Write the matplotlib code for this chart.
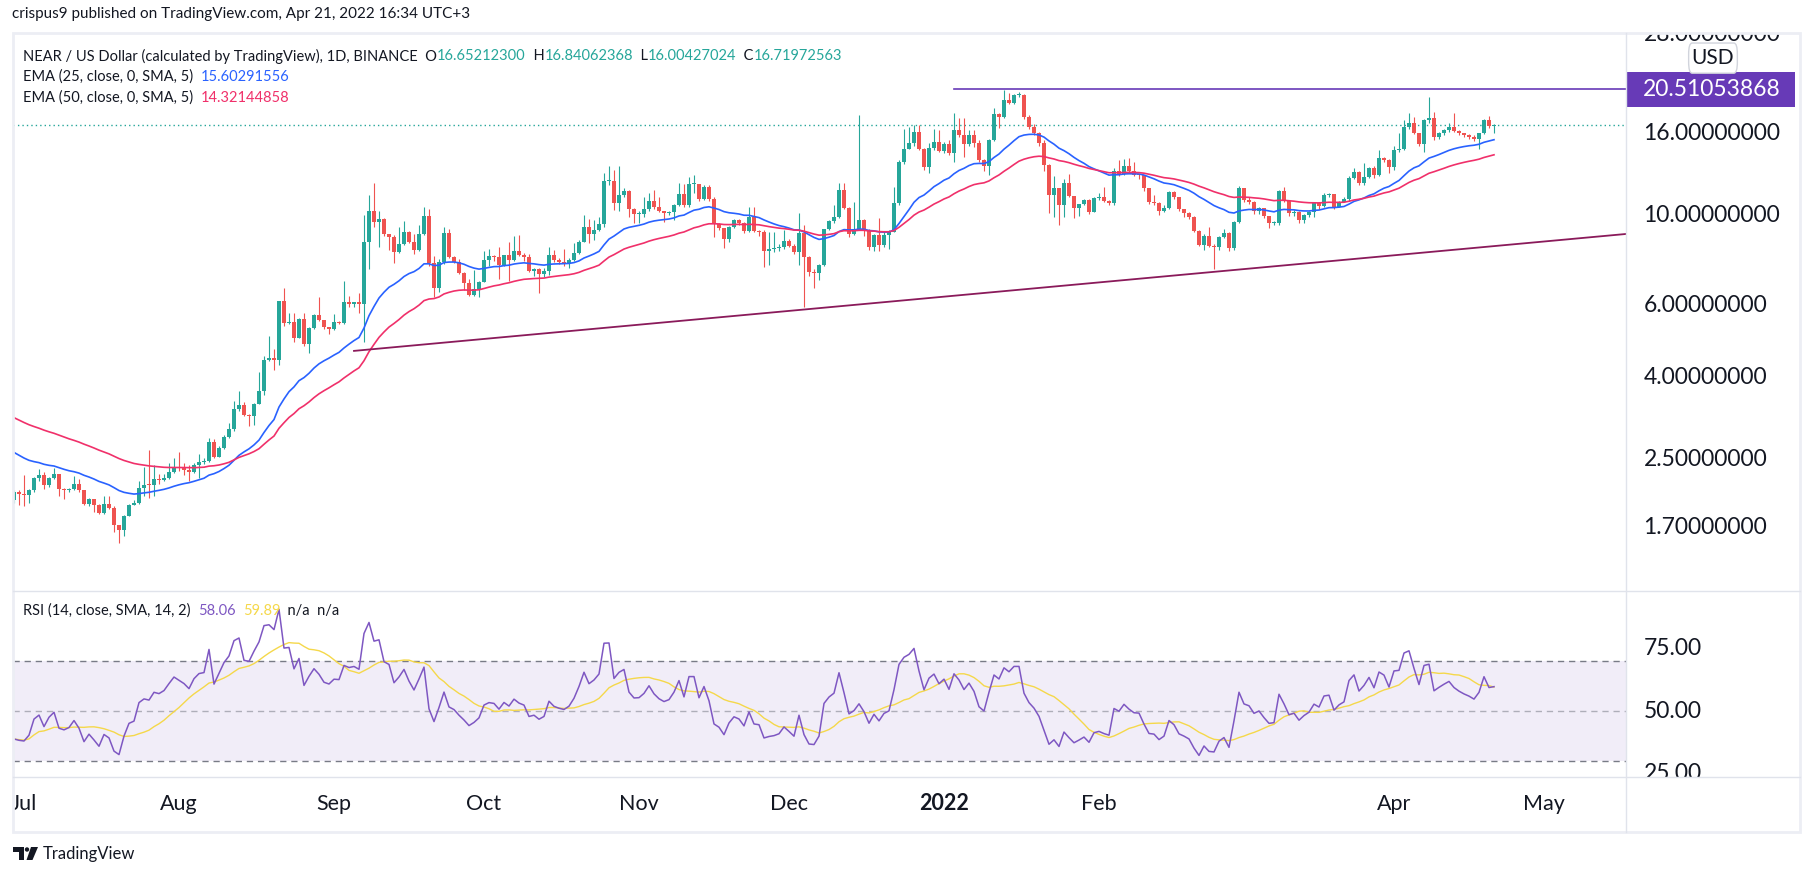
import numpy as np
import pandas as pd
import matplotlib
matplotlib.use('Agg')
import matplotlib.pyplot as plt
import matplotlib.dates as mdates
from matplotlib.patches import Rectangle, FancyBboxPatch, Polygon, Circle

# ---------------------------------------------------------------------------
# data (NEAR/USD daily, from 2021-06-29)
# ---------------------------------------------------------------------------
START_DATE = '2021-06-29'
OPEN_FIRST = 1.99
CLOSE = [
    2.08, 2.06, 2.05, 2.10, 2.25, 2.29, 2.16, 2.25, 2.30, 2.12,
    2.10, 2.12, 2.18, 2.10, 1.94, 2.00, 1.93, 1.85, 1.94, 1.90,
    1.73, 1.68, 1.82, 1.93, 1.95, 2.13, 2.17, 2.16, 2.24, 2.23,
    2.26, 2.33, 2.40, 2.38, 2.36, 2.33, 2.42, 2.47, 2.48, 2.77,
    2.54, 2.68, 2.85, 2.97, 3.33, 3.41, 3.22, 3.21, 3.44, 3.70,
    4.40, 4.45, 4.40, 6.15, 5.43, 5.47, 5.00, 5.55, 4.82, 5.27,
    5.69, 5.53, 5.30, 5.25, 5.46, 5.45, 6.11, 6.06, 6.11, 6.05,
    8.60, 10.27, 9.63, 9.80, 8.99, 8.88, 8.12, 8.54, 9.13, 8.63,
    8.23, 9.00, 9.99, 7.63, 6.64, 7.70, 9.08, 7.92, 7.70, 7.24,
    6.84, 6.37, 6.58, 6.88, 7.77, 7.95, 7.90, 7.56, 7.98, 7.78,
    8.20, 8.00, 7.90, 7.32, 7.38, 7.18, 7.30, 8.00, 7.78, 7.70,
    7.65, 7.78, 8.10, 8.63, 9.40, 9.02, 9.22, 9.55, 12.15, 12.18,
    10.73, 11.25, 11.50, 10.40, 10.08, 10.10, 10.37, 10.87, 10.50, 10.27,
    10.14, 10.24, 10.63, 11.30, 10.63, 11.96, 11.96, 11.00, 11.75, 11.02,
    9.55, 9.31, 8.75, 9.40, 9.76, 9.62, 9.18, 9.95, 9.18, 9.13,
    8.20, 8.27, 8.31, 8.39, 8.68, 8.43, 8.16, 9.05, 7.92, 7.25,
    7.21, 7.56, 9.27, 9.69, 9.95, 11.57, 10.47, 9.02, 9.26, 9.76,
    9.22, 8.36, 8.96, 8.47, 8.96, 9.13, 10.73, 13.55, 14.62, 15.09,
    16.10, 14.62, 13.16, 14.66, 15.24, 14.47, 15.06, 14.25, 16.30, 15.80,
    15.00, 15.80, 15.12, 13.72, 13.30, 15.38, 17.86, 17.50, 19.34, 19.00,
    19.90, 19.90, 17.56, 16.59, 16.00, 15.09, 13.34, 11.25, 11.68, 10.63,
    12.02, 11.20, 10.43, 10.67, 10.93, 10.24, 11.03, 11.14, 10.90, 10.73,
    12.92, 12.67, 13.30, 12.90, 12.60, 12.57, 11.68, 10.83, 10.77, 10.27,
    10.47, 11.42, 11.10, 10.37, 10.18, 9.95, 9.17, 8.47, 8.93, 8.44,
    8.39, 8.88, 9.05, 8.31, 9.67, 11.73, 10.93, 10.80, 10.27, 10.43,
    9.98, 9.58, 9.62, 11.50, 10.89, 10.14, 10.24, 9.76, 10.04, 10.24,
    10.73, 10.57, 11.25, 11.30, 10.53, 10.83, 11.00, 12.40, 12.85, 12.07,
    12.48, 13.10, 12.60, 13.90, 13.75, 13.16, 14.56, 14.62, 16.59, 16.90,
    16.00, 15.06, 17.23, 17.40, 15.60, 15.97, 16.30, 16.59, 16.20, 15.97,
    15.80, 15.67, 15.50, 15.97, 17.23, 16.65, 16.72,
]
HIGH = [
    2.10, 2.10, 2.29, 2.12, 2.27, 2.37, 2.33, 2.27, 2.39, 2.31,
    2.13, 2.13, 2.28, 2.24, 2.11, 2.01, 2.00, 1.94, 2.03, 2.03,
    1.92, 1.73, 1.83, 1.94, 1.99, 2.22, 2.40, 2.64, 2.42, 2.30,
    2.30, 2.46, 2.53, 2.61, 2.46, 2.42, 2.45, 2.59, 2.52, 2.83,
    2.81, 2.70, 2.87, 3.08, 3.50, 3.69, 3.47, 3.25, 3.46, 4.11,
    4.50, 5.05, 4.70, 6.16, 6.62, 5.75, 5.75, 5.58, 5.76, 5.30,
    5.72, 6.32, 5.53, 5.30, 5.72, 5.50, 6.90, 6.35, 6.13, 6.45,
    10.04, 11.26, 12.06, 10.25, 9.90, 9.00, 8.95, 9.36, 9.68, 9.15,
    9.00, 9.49, 10.48, 10.40, 7.95, 7.80, 9.40, 9.25, 7.95, 7.80,
    7.25, 7.00, 7.35, 6.90, 8.20, 8.30, 8.00, 8.35, 8.00, 8.63,
    8.90, 8.95, 8.10, 8.05, 7.45, 7.42, 7.45, 8.35, 8.25, 7.85,
    8.30, 7.85, 8.55, 8.70, 10.04, 9.80, 9.75, 9.95, 12.72, 13.25,
    13.00, 13.30, 11.70, 11.55, 10.45, 10.30, 11.14, 11.36, 11.57, 11.14,
    10.30, 10.30, 10.70, 12.07, 12.00, 12.48, 12.60, 11.90, 11.90, 11.90,
    11.10, 9.60, 9.35, 9.45, 9.80, 9.80, 9.65, 10.53, 10.53, 9.20,
    9.20, 9.13, 9.13, 8.50, 9.22, 8.75, 8.50, 10.14, 9.50, 7.95,
    7.40, 7.60, 9.30, 9.76, 10.63, 12.07, 12.07, 10.50, 10.80, 17.70,
    9.80, 9.25, 9.00, 9.85, 9.10, 9.20, 11.80, 13.70, 16.40, 16.60,
    16.74, 16.74, 14.70, 15.10, 16.40, 16.28, 15.20, 15.38, 17.90, 17.40,
    17.40, 16.28, 16.28, 15.38, 13.80, 15.50, 18.40, 17.90, 20.43, 20.10,
    20.00, 20.20, 20.00, 17.70, 16.80, 16.10, 15.40, 13.40, 12.50, 11.70,
    12.30, 12.70, 11.20, 10.70, 11.00, 11.00, 11.10, 11.36, 11.80, 10.95,
    13.10, 13.72, 13.80, 13.90, 13.60, 12.70, 12.60, 11.70, 11.25, 10.80,
    10.60, 11.50, 11.50, 11.15, 10.40, 10.20, 10.00, 9.20, 9.00, 9.40,
    8.50, 8.90, 9.30, 9.10, 9.70, 11.85, 11.68, 11.10, 10.90, 10.50,
    10.45, 10.00, 9.70, 11.60, 11.80, 10.95, 10.35, 10.30, 10.10, 10.30,
    10.80, 10.80, 11.36, 11.40, 11.30, 10.90, 11.10, 12.50, 13.10, 12.90,
    13.50, 13.20, 13.30, 14.50, 14.00, 13.80, 14.90, 15.97, 17.23, 17.90,
    17.56, 16.00, 17.30, 19.60, 18.00, 16.10, 16.40, 16.90, 17.90, 16.30,
    16.00, 15.90, 15.80, 16.00, 17.30, 17.60, 16.84,
]
LOW = [
    1.95, 1.93, 1.92, 1.96, 2.08, 2.22, 2.12, 2.14, 2.24, 2.04,
    2.00, 2.08, 2.11, 2.08, 1.93, 1.92, 1.86, 1.84, 1.84, 1.89,
    1.66, 1.56, 1.62, 1.82, 1.93, 1.94, 2.04, 2.01, 2.03, 2.18,
    2.22, 2.24, 2.32, 2.34, 2.29, 2.22, 2.32, 2.25, 2.44, 2.47,
    2.52, 2.54, 2.66, 2.83, 2.95, 3.30, 3.20, 3.02, 3.05, 3.44,
    3.62, 4.38, 4.16, 4.28, 5.36, 5.40, 4.87, 4.98, 4.78, 4.58,
    5.25, 5.50, 5.25, 5.12, 5.22, 5.40, 5.40, 5.94, 5.95, 5.76,
    4.88, 7.40, 9.40, 8.35, 8.90, 8.22, 7.66, 8.08, 8.45, 8.58,
    8.03, 8.20, 8.98, 7.50, 6.32, 6.50, 7.60, 7.85, 7.65, 7.20,
    6.55, 6.33, 6.35, 6.32, 6.85, 7.50, 7.75, 7.00, 7.50, 6.90,
    7.75, 7.95, 7.75, 7.25, 7.10, 6.43, 7.05, 7.15, 7.70, 7.60,
    7.50, 7.45, 7.72, 8.05, 8.60, 8.55, 8.71, 9.15, 9.40, 11.90,
    10.33, 10.30, 11.10, 9.95, 9.58, 9.60, 9.95, 10.30, 10.40, 10.20,
    9.67, 10.05, 9.76, 10.55, 10.50, 10.50, 11.36, 10.90, 10.95, 10.90,
    8.88, 9.20, 8.31, 8.60, 9.35, 9.50, 9.05, 9.10, 9.10, 8.90,
    7.49, 7.56, 8.15, 8.20, 8.30, 8.35, 8.05, 7.56, 5.94, 7.10,
    6.62, 6.95, 7.50, 9.20, 9.60, 9.90, 10.40, 8.88, 8.95, 9.20,
    8.90, 8.23, 8.20, 8.20, 8.35, 8.30, 9.10, 10.60, 13.40, 14.60,
    14.90, 14.50, 13.00, 12.75, 14.50, 14.40, 14.30, 14.10, 13.60, 15.60,
    14.00, 14.90, 14.80, 13.60, 12.90, 12.60, 15.30, 16.50, 17.40, 18.90,
    18.90, 19.60, 17.30, 16.40, 15.80, 14.90, 12.90, 10.14, 9.95, 9.50,
    9.95, 11.10, 9.85, 10.00, 10.60, 10.10, 10.20, 10.95, 10.80, 10.60,
    10.60, 12.50, 12.60, 12.80, 12.50, 12.30, 11.50, 10.70, 10.60, 10.04,
    10.20, 10.40, 11.00, 10.25, 9.95, 9.80, 9.10, 8.40, 8.23, 8.35,
    7.38, 8.23, 8.80, 8.20, 8.25, 9.60, 10.80, 10.70, 10.10, 10.10,
    9.90, 9.31, 9.50, 9.50, 10.80, 10.00, 10.00, 9.60, 9.60, 9.95,
    9.95, 10.40, 10.50, 11.10, 10.40, 10.50, 10.80, 10.90, 12.30, 11.90,
    11.90, 12.40, 12.40, 12.50, 13.60, 12.72, 13.00, 14.40, 14.50, 16.40,
    15.90, 14.90, 14.40, 16.90, 15.40, 15.50, 15.80, 16.10, 16.10, 15.80,
    15.60, 15.50, 15.30, 14.60, 15.90, 16.50, 16.00,
]

# indicator values at the left edge of the chart
EMA25_START = 2.65
EMA50_START = 3.22
RSI_SEED_GAIN = 0.040
RSI_SEED_LOSS = 0.074

# drawings
RES_PRICE = 20.51053868
RES_START = '2022-01-03'
TREND_START, TREND_START_P = '2021-09-05', 4.64
TREND_END, TREND_END_P = '2022-05-18', 9.03

PRICE_TICKS = [28, 16, 10, 6, 4, 2.5, 1.7]
RSI_TICKS = [75, 50, 25]
MONTHS = ['2021-07-01', '2021-08-01', '2021-09-01', '2021-10-01', '2021-11-01',
          '2021-12-01', '2022-01-01', '2022-02-01', '2022-04-01', '2022-05-01']
MONTH_LABELS = ['Jul', 'Aug', 'Sep', 'Oct', 'Nov', 'Dec', '2022', 'Feb', 'Apr', 'May']

# ---------------------------------------------------------------------------
UP, DOWN = '#26a69a', '#ef5350'
C_EMA25, C_EMA50 = '#2962ff', '#f0306a'
C_RSI, C_RSIMA = '#7e57c2', '#f5d84a'
TXT = '#131722'
GRID = '#e0e3eb'

plt.rcParams['font.family'] = ['Lato', 'DejaVu Sans']

W, H = 1813, 876


def rect(x0, y0, x1, y1):
    return [x0 / W, 1 - y1 / H, (x1 - x0) / W, (y1 - y0) / H]


def ema(vals, n, start):
    a = 2 / (n + 1)
    e, out = start, []
    for v in vals:
        e = a * v + (1 - a) * e
        out.append(e)
    return np.array(out)


c = np.array(CLOSE)
o = np.r_[OPEN_FIRST, c[:-1]]
dates = pd.date_range(START_DATE, periods=len(c), freq='D')
x = mdates.date2num(dates)

ema25 = ema(c, 25, EMA25_START)
ema50 = ema(c, 50, EMA50_START)

d = c - o
ag, al = RSI_SEED_GAIN, RSI_SEED_LOSS
rsi = []
for v in d:
    ag = (ag * 13 + max(v, 0)) / 14
    al = (al * 13 + max(-v, 0)) / 14
    rsi.append(100 - 100 / (1 + ag / al))
rsi = pd.Series(rsi)
rsi_ma = rsi.rolling(14, min_periods=1).mean()

x_left = x[0] - 0.2
x_right = x[0] + 322.4

fig = plt.figure(figsize=(W / 100, H / 100), dpi=100)
fig.patch.set_facecolor('white')

ax = fig.add_axes(rect(13, 33, 1626, 591))
ax_rsi = fig.add_axes(rect(13, 591, 1626, 777))
ax_time = fig.add_axes(rect(13, 777, 1626, 832))
ax_ps = fig.add_axes(rect(1626, 33, 1800, 591))
ax_rs = fig.add_axes(rect(1626, 591, 1800, 777))
for a in (ax, ax_rsi, ax_time, ax_ps, ax_rs):
    a.set_axis_off()
for a in (ax, ax_rsi, ax_time):
    a.set_xlim(x_left, x_right)

# --- price pane ---
ax.set_yscale('log')
ax.set_ylim(1.186, 28.24)
up = c >= o
col = np.where(up, UP, DOWN)
bot = np.minimum(o, c)
top = np.maximum(np.maximum(o, c), bot * 1.006)
hi = np.maximum(HIGH, top)
lo = np.minimum(LOW, bot)
ax.vlines(x, lo, hi, colors=col, lw=0.8, zorder=2)
ax.bar(x, top - bot, bottom=bot, width=0.76, color=col, lw=0, zorder=3)
ax.plot(x, ema25, color=C_EMA25, lw=1.2, zorder=4)
ax.plot(x, ema50, color=C_EMA50, lw=1.2, zorder=4)
ax.axhline(c[-1], color=UP, lw=1.0, ls=(0, (1, 2.2)), zorder=1)
ax.plot(mdates.datestr2num([RES_START, TREND_END]), [RES_PRICE, RES_PRICE],
        color='#673ab7', lw=1.2, zorder=5)
ax.plot(mdates.datestr2num([TREND_START, TREND_END]), [TREND_START_P, TREND_END_P],
        color='#8a1a5a', lw=1.3, zorder=5)

# --- rsi pane ---
ax_rsi.set_ylim(23.6, 98)
ax_rsi.axhspan(30, 70, color=C_RSI, alpha=0.1, lw=0, zorder=0)
for lvl, al_ in ((70, 1.0), (50, 0.55), (30, 1.0)):
    ax_rsi.axhline(lvl, color='#787b86', alpha=al_, lw=1.0, ls=(0, (4.5, 3.5)), zorder=1)
ax_rsi.plot(x, rsi, color=C_RSI, lw=1.1, zorder=3)
ax_rsi.plot(x, rsi_ma, color=C_RSIMA, lw=1.0, zorder=2)

# --- time axis ---
ax_time.set_ylim(0, 1)
for dstr, lab in zip(MONTHS, MONTH_LABELS):
    ax_time.text(mdates.datestr2num(dstr), 0.40, lab, ha='center', va='baseline',
                 fontsize=15.5, color=TXT, clip_on=True,
                 fontweight='bold' if lab == '2022' else 'normal')

# --- price scale ---
ax_ps.set_yscale('log')
ax_ps.set_ylim(1.186, 28.24)
ax_ps.set_xlim(0, 1)
for v in PRICE_TICKS:
    ax_ps.text(0.1, v, f'{v:.8f}', ha='left', va='center', fontsize=16.5,
               color=TXT, clip_on=True)
ax_ps.add_patch(Rectangle((0, RES_PRICE / 1.104), 0.97, RES_PRICE * 1.104 - RES_PRICE / 1.104,
                          color='#673ab7', lw=0, zorder=5))
ax_ps.text(0.49, RES_PRICE, f'{RES_PRICE:.8f}', ha='center', va='center', fontsize=16.5,
           color='white', zorder=6)
bt = ax_ps.transAxes
ax_ps.add_patch(FancyBboxPatch((0.36, 0.928), 0.28, 0.054, transform=bt,
                               boxstyle='round,pad=0,rounding_size=0.02',
                               fc='white', ec='#d1d4dc', lw=1, zorder=7))
ax_ps.text(0.5, 0.955, 'USD', transform=bt, ha='center', va='center',
           fontsize=15, color=TXT, zorder=8)

# --- rsi scale ---
ax_rs.set_ylim(23.6, 98)
ax_rs.set_xlim(0, 1)
for v in RSI_TICKS:
    ax_rs.text(0.1, v, f'{v:.2f}', ha='left', va='center', fontsize=16.5,
               color=TXT, clip_on=True)

# --- overlay: frame, header, legends, logo ---
ov = fig.add_axes([0, 0, 1, 1], zorder=10)
ov.set_xlim(0, W)
ov.set_ylim(H, 0)
ov.set_axis_off()
ov.patch.set_alpha(0)

ov.add_patch(Rectangle((13, 33), 1787, 799, fill=False, ec='#eceef4', lw=2))
ov.plot([13, 1800], [591, 591], color=GRID, lw=1)
ov.plot([13, 1800], [777, 777], color=GRID, lw=1)
ov.plot([1626, 1626], [33, 832], color=GRID, lw=1)

renderer = fig.canvas.get_renderer()


def pieces(x0, y0, parts, size):
    xx = x0
    for s, colr in parts:
        t = ov.text(xx, y0, s, color=colr, fontsize=size, ha='left', va='center')
        xx = t.get_window_extent(renderer).x1


LEG = 10.5
ov.text(12, 14, 'crispus9 published on TradingView.com, Apr 21, 2022 16:34 UTC+3',
        fontsize=11, color=TXT, ha='left', va='center')
pieces(23, 56, [('NEAR / US Dollar (calculated by TradingView), 1D, BINANCE  O', TXT),
                ('16.65212300', UP), ('  H', TXT), ('16.84062368', UP),
                ('  L', TXT), ('16.00427024', UP), ('  C', TXT), ('16.71972563', UP)], LEG)
pieces(23, 77, [('EMA (25, close, 0, SMA, 5)  ', TXT), ('15.60291556', C_EMA25)], LEG)
pieces(23, 98, [('EMA (50, close, 0, SMA, 5)  ', TXT), ('14.32144858', C_EMA50)], LEG)
pieces(23, 611, [('RSI (14, close, SMA, 14, 2)  ', TXT), ('58.06', C_RSI), ('  ', TXT),
                 ('59.89', C_RSIMA), ('  n/a  n/a', TXT)], LEG)

# TradingView logo
ov.add_patch(Polygon([(13, 847), (24, 847), (24, 860), (19, 860), (19, 851.5), (13, 851.5)],
                     closed=True, color=TXT, lw=0))
ov.add_patch(Circle((27, 849.5), 2.2, color=TXT, lw=0))
ov.add_patch(Polygon([(31, 847), (38, 847), (32.5, 860), (26.5, 860)], closed=True,
                     color=TXT, lw=0))
ov.text(43, 854, 'TradingView', fontsize=12, color=TXT, ha='left', va='center')

fig.savefig('out.png', dpi=100, facecolor='white')
